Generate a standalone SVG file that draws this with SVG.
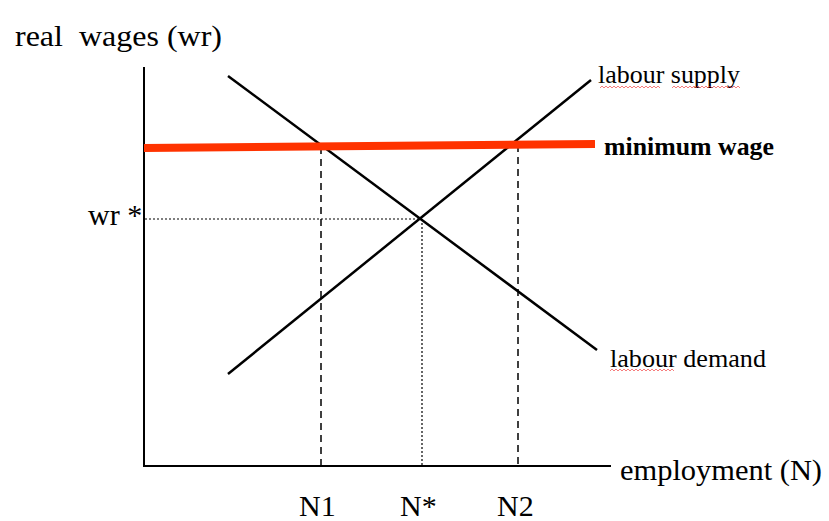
<svg xmlns="http://www.w3.org/2000/svg" width="829" height="521" viewBox="0 0 829 521">
<style>
text{font-family:"Liberation Serif","Times New Roman",serif;fill:#000}
.ax{stroke:#000;stroke-width:2;fill:none}
.curve{stroke:#000;stroke-width:2.5;fill:none}
.dash{stroke:#000;stroke-width:1.5;stroke-dasharray:7,5;fill:none}
.dot{stroke:#000;stroke-width:1.2;stroke-dasharray:2,2;fill:none}
.wavy{stroke:#f03030;stroke-width:0.9;fill:none;opacity:0.7}
</style>
<rect width="829" height="521" fill="#fff"/>
<g id="connectors">
<line class="ax" x1="144" y1="67" x2="144" y2="466"/>
<line class="ax" x1="143" y1="466" x2="611" y2="466"/>
<line class="dot" x1="145" y1="219" x2="422" y2="219"/>
<line class="dot" x1="422" y1="219" x2="422" y2="465"/>
<line class="dash" x1="321" y1="147" x2="321" y2="465"/>
<line class="dash" x1="518" y1="145" x2="518" y2="465"/>
</g>
<g id="labour-demand">
<line class="curve" x1="228" y1="76" x2="597" y2="350"/>
<text x="610" y="367" font-size="26" textLength="156" lengthAdjust="spacingAndGlyphs">labour demand</text>
<path class="wavy" d="M610 371 l2 -2 l2 2 l2 -2 l2 2 l2 -2 l2 2 l2 -2 l2 2 l2 -2 l2 2 l2 -2 l2 2 l2 -2 l2 2 l2 -2 l2 2 l2 -2 l2 2 l2 -2 l2 2 l2 -2 l2 2 l2 -2 l2 2 l2 -2 l2 2 l2 -2 l2 2 l2 -2 l2 2 l2 -2 l2 2"/>
</g>
<g id="labour-supply">
<line class="curve" x1="228" y1="374" x2="591" y2="80"/>
<text x="598" y="83" font-size="26" textLength="142" lengthAdjust="spacingAndGlyphs">labour supply</text>
<path class="wavy" d="M600 88 l2 -2 l2 2 l2 -2 l2 2 l2 -2 l2 2 l2 -2 l2 2 l2 -2 l2 2 l2 -2 l2 2 l2 -2 l2 2 l2 -2 l2 2 l2 -2 l2 2 l2 -2 l2 2 l2 -2 l2 2 l2 -2 l2 2 l2 -2 l2 2 l2 -2 l2 2 l2 -2 l2 2"/>
<path class="wavy" d="M672 88 l2 -2 l2 2 l2 -2 l2 2 l2 -2 l2 2 l2 -2 l2 2 l2 -2 l2 2 l2 -2 l2 2 l2 -2 l2 2 l2 -2 l2 2 l2 -2 l2 2 l2 -2 l2 2 l2 -2 l2 2 l2 -2 l2 2 l2 -2 l2 2 l2 -2 l2 2 l2 -2 l2 2 l2 -2 l2 2 l2 -2 l2 2"/>
</g>
<g id="minimum-wage">
<line x1="144" y1="148" x2="595" y2="144" stroke="#ff3300" stroke-width="8"/>
<text x="604" y="155" font-size="26" font-weight="bold" textLength="170" lengthAdjust="spacingAndGlyphs">minimum wage</text>
</g>
<g id="labels">
<text x="15" y="46" font-size="30" textLength="207" lengthAdjust="spacingAndGlyphs" xml:space="preserve">real  wages (wr)</text>
<text x="88" y="225" font-size="30" xml:space="preserve">wr *</text>
<text x="620" y="480" font-size="30" textLength="202" lengthAdjust="spacingAndGlyphs">employment (N)</text>
<text x="299" y="516" font-size="30">N1</text>
<text x="400" y="516" font-size="30">N*</text>
<text x="497" y="516" font-size="30">N2</text>
</g>
</svg>
